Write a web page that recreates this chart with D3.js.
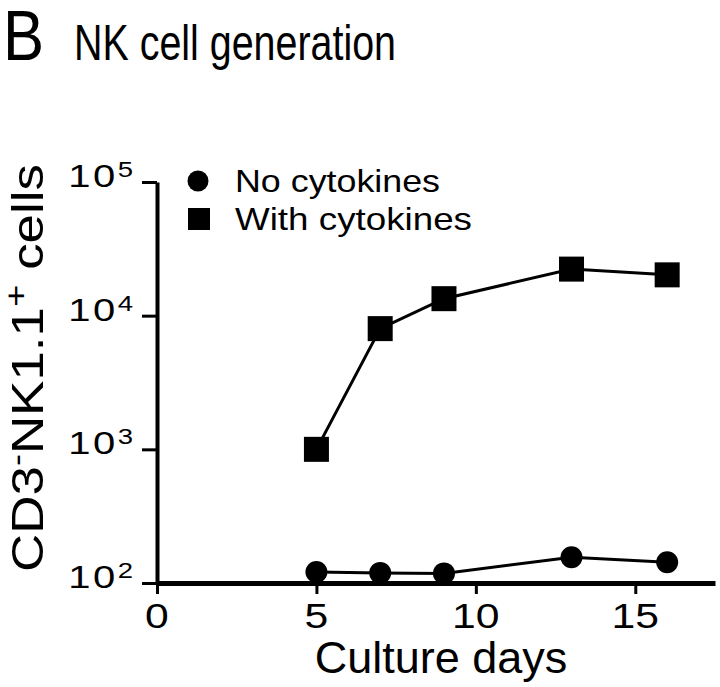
<!DOCTYPE html>
<html>
<head>
<meta charset="utf-8">
<script src="https://cdn.jsdelivr.net/npm/d3@7"></script>
<style>
body { margin: 0; background: #fff; }
text { font-family: "Liberation Sans", Arial, Helvetica, sans-serif; fill: #000; }
</style>
</head>
<body>
<div id="chart"></div>
<script>
// data
const days = [5, 7, 9, 13, 16];
const noCytokines = [121, 119, 118, 156, 143];
const withCytokines = [1000, 8000, 13400, 22300, 20200];
const xTicks = [0, 5, 10, 15];
const yTicks = [1e2, 1e3, 1e4, 1e5];
const yExponents = ["2", "3", "4", "5"];
const legendLabels = ["No cytokines", "With cytokines"];

var width = 720,
    height = 687;

var svg = d3.select("#chart")
    .append("svg")
    .attr("width", width)
    .attr("height", height);

svg.append("rect").attr("width", width).attr("height", height).attr("fill", "#fff");

var x = d3.scaleLinear().domain([0, 17.5]).range([157, 715]);
var y = d3.scaleLog().domain([100, 1e5]).range([583, 182]);

// title
svg.append("text")
    .attr("transform", "translate(3,60) scale(0.88,1)")
    .style("font-size", "70px")
    .text("B");
svg.append("text")
    .attr("x", 74)
    .attr("y", 60)
    .attr("textLength", 322)
    .attr("lengthAdjust", "spacingAndGlyphs")
    .style("font-size", "50px")
    .text("NK cell generation");

// x axis
var xAxis = svg.append("g")
    .attr("transform", "translate(0,583)")
    .call(d3.axisBottom(x).tickValues(xTicks).tickSize(11).tickSizeOuter(0).tickFormat(""));
xAxis.select(".domain").attr("stroke-width", 5);
xAxis.selectAll(".tick line").attr("stroke-width", 3);

svg.selectAll(".xlab")
    .data(xTicks)
    .join("text")
    .attr("class", "xlab")
    .attr("transform", function (d) { return "translate(" + x(d) + ",628) scale(1.22,1)"; })
    .attr("text-anchor", "middle")
    .style("font-size", "35px")
    .text(function (d) { return d; });

// y axis
var yAxis = svg.append("g")
    .attr("transform", "translate(157,0)")
    .call(d3.axisLeft(y).tickValues(yTicks).tickSize(15).tickSizeOuter(0).tickFormat(""));
yAxis.select(".domain").attr("stroke-width", 4);
yAxis.selectAll(".tick line").attr("stroke-width", 3);

var ylab = svg.selectAll(".ylab")
    .data(yTicks)
    .join("text")
    .attr("class", "ylab")
    .attr("transform", function (d) { return "translate(133," + (y(d) + 5) + ") scale(1.25,1)"; })
    .attr("text-anchor", "end")
    .style("font-size", "32px");
ylab.append("tspan").style("letter-spacing", "2px").text("10");
ylab.append("tspan")
    .attr("dy", -10)
    .style("font-size", "22px")
    .text(function (d, i) { return yExponents[i]; });

// axis titles
svg.append("text")
    .attr("x", 441)
    .attr("y", 673)
    .attr("text-anchor", "middle")
    .style("font-size", "45px")
    .text("Culture days");

var yTitle = svg.append("text")
    .attr("transform", "translate(43,368) rotate(-90)")
    .attr("text-anchor", "middle")
    .attr("textLength", 408)
    .attr("lengthAdjust", "spacingAndGlyphs")
    .style("font-size", "44px");
yTitle.append("tspan").text("CD3");
yTitle.append("tspan").attr("dy", -16).style("font-size", "30px").text("-");
yTitle.append("tspan").attr("dy", 16).text("NK1.1");
yTitle.append("tspan").attr("dy", -16).style("font-size", "32px").text("+");
yTitle.append("tspan").attr("dy", 16).text(" cells");

// lines
var line = d3.line()
    .x(function (d, i) { return x(days[i]); })
    .y(function (d) { return y(d); });

svg.append("path")
    .datum(noCytokines)
    .attr("d", line)
    .attr("fill", "none")
    .attr("stroke", "#000")
    .attr("stroke-width", 3);

svg.append("path")
    .datum(withCytokines)
    .attr("d", line)
    .attr("fill", "none")
    .attr("stroke", "#000")
    .attr("stroke-width", 3);

// markers
svg.selectAll(".dot")
    .data(noCytokines)
    .join("circle")
    .attr("class", "dot")
    .attr("cx", function (d, i) { return x(days[i]); })
    .attr("cy", function (d) { return y(d); })
    .attr("r", 11)
    .attr("fill", "#000");

var sq = 25;
svg.selectAll(".sq")
    .data(withCytokines)
    .join("rect")
    .attr("class", "sq")
    .attr("x", function (d, i) { return x(days[i]) - sq / 2; })
    .attr("y", function (d) { return y(d) - sq / 2; })
    .attr("width", sq)
    .attr("height", sq)
    .attr("fill", "#000");

// legend
var legend = svg.selectAll(".leg")
    .data(legendLabels)
    .join("g")
    .attr("class", "leg")
    .attr("transform", function (d, i) { return "translate(198," + (181 + i * 38) + ")"; });

legend.filter(function (d, i) { return i === 0; })
    .append("circle").attr("r", 10.5).attr("fill", "#000");
legend.filter(function (d, i) { return i === 1; })
    .append("rect").attr("x", -10).attr("y", -11).attr("width", 22).attr("height", 22).attr("fill", "#000");

legend.append("text")
    .attr("x", 37)
    .attr("y", 11)
    .attr("textLength", function (d, i) { return i === 0 ? 205 : 237; })
    .attr("lengthAdjust", "spacingAndGlyphs")
    .style("font-size", "32px")
    .text(function (d) { return d; });
</script>
</body>
</html>
